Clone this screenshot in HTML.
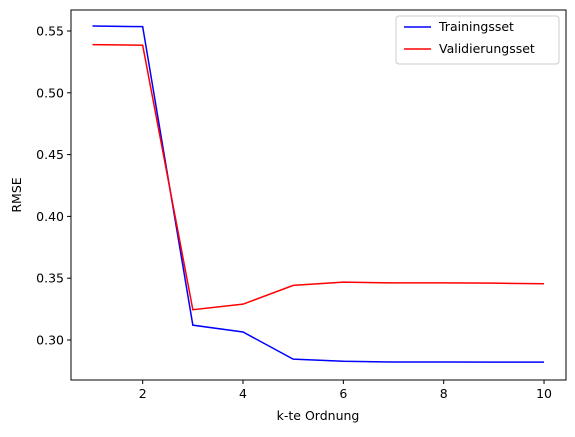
<!DOCTYPE html>
<html><head><meta charset="utf-8"><style>
body{margin:0;background:#fff;}
svg text{font-family:"DejaVu Sans","Liberation Sans",sans-serif;font-size:12.5px;fill:#000;}
</style></head><body>
<svg id="chart" width="575" height="432">
<rect x="71" y="10" width="495" height="370" fill="none" stroke="#000" stroke-width="1"/>
<g id="ticks"></g>
<g id="lines"></g>
<text x="318" y="420" text-anchor="middle">k-te Ordnung</text>
<text transform="translate(21,195) rotate(-90)" text-anchor="middle">RMSE</text>
<g>
<rect x="396" y="16" width="163" height="48" rx="3" fill="#fff" stroke="#ccc"/>
<g>
<line x1="404" y1="27" x2="431" y2="27" stroke="blue" stroke-width="1.5"/>
<text x="439" y="31">Trainingsset</text></g>
<g>
<line x1="404" y1="49" x2="431" y2="49" stroke="red" stroke-width="1.5"/>
<text x="439" y="53">Validierungsset</text></g>
</g>
</svg>
<script>
const orders=[1,2,3,4,5,6,7,8,9,10];
const training=[0.554,0.5535,0.312,0.3065,0.2845,0.2828,0.2822,0.2822,0.2821,0.2821];
const validation=[0.539,0.5385,0.3245,0.329,0.3442,0.3468,0.3462,0.3462,0.346,0.3455];
const xTicks=[2,4,6,8,10];
const yTicks=[0.30,0.35,0.40,0.45,0.50,0.55];
const sx=v=>92.5+(v-1)*50.17;
const sy=v=>340-(v-0.30)*1236;
const NS="http://www.w3.org/2000/svg";
const tg=document.getElementById('ticks');
xTicks.forEach(t=>{
 const l=document.createElementNS(NS,'line');
 l.setAttribute('x1',sx(t));l.setAttribute('x2',sx(t));l.setAttribute('y1',380);l.setAttribute('y2',384);l.setAttribute('stroke','#000');
 
 
 tg.appendChild(l);
 const tx=document.createElementNS(NS,'text');
 tx.setAttribute('x',sx(t));tx.setAttribute('y',398);tx.setAttribute('text-anchor','middle');tx.textContent=t;
 
 
 tg.appendChild(tx);
});
yTicks.forEach(t=>{
 const l=document.createElementNS(NS,'line');
 l.setAttribute('x1',67);l.setAttribute('x2',71);l.setAttribute('y1',sy(t));l.setAttribute('y2',sy(t));l.setAttribute('stroke','#000');
 
 
 tg.appendChild(l);
 const tx=document.createElementNS(NS,'text');
 tx.setAttribute('x',64);tx.setAttribute('y',sy(t)+4.5);tx.setAttribute('text-anchor','end');tx.textContent=t.toFixed(2);
 
 
 tg.appendChild(tx);
});
const lg=document.getElementById('lines');
[[training,'blue','training-line'],[validation,'red','validation-line']].forEach(([d,c,n])=>{
 const p=document.createElementNS(NS,'polyline');
 p.setAttribute('points',d.map((v,i)=>sx(orders[i])+','+sy(v)).join(' '));
 p.setAttribute('fill','none');p.setAttribute('stroke',c);p.setAttribute('stroke-width','1.5');
 
 
 lg.appendChild(p);
});
</script>
</body></html>
